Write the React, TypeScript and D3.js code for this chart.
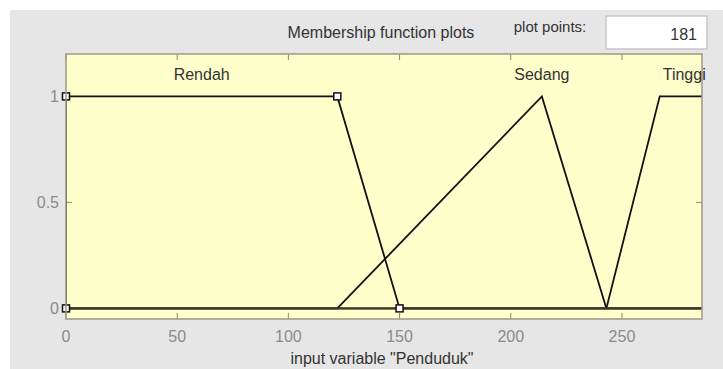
import React from "react";
import * as d3 from "d3";

const W = 723;
const H = 369;

const xDomain: [number, number] = [0, 286];
const yDomain: [number, number] = [-0.05, 1.2];
const xTicks = [0, 50, 100, 150, 200, 250];
const yTicks = [0, 0.5, 1];

const mfNames = ["Rendah", "Sedang", "Tinggi"];
const rendahX = [0, 0, 122, 150, 286];
const rendahY = [0, 1, 1, 0, 0];
const sedangX = [0, 122, 214, 243, 286];
const sedangY = [0, 0, 1, 0, 0];
const tinggiX = [0, 243, 267, 286];
const tinggiY = [0, 0, 1, 1];
const labelX = [61, 214, 278];
const markerX = [0, 0, 122, 150];
const markerY = [0, 1, 1, 0];

const plotPoints = "181";
const varName = "Penduduk";

export default function App() {
  const left = 66, right = 702, top = 54, bottom = 319;
  const x = d3.scaleLinear().domain(xDomain).range([left, right]);
  const y = d3.scaleLinear().domain(yDomain).range([bottom, top]);
  const line = d3
    .line<[number, number]>()
    .x((d) => x(d[0]))
    .y((d) => y(d[1]));
  const series = [
    [rendahX, rendahY],
    [sedangX, sedangY],
    [tinggiX, tinggiY],
  ].map(([xs, ys]) => xs.map((v, i) => [v, ys[i]] as [number, number]));
  const font = "'Liberation Sans', Arial, sans-serif";
  const tickCol = "#8a8a8a";
  const textCol = "#333";

  return (
    <svg
      width={W}
      height={H}
      style={{ position: "absolute", left: 0, top: 0 }}
      fontFamily={font}
    >
      <rect x={0} y={0} width={W} height={H} fill="#ffffff" />
      <rect x={10} y={10} width={W - 10} height={H - 10} fill="#e6e6e6" />
      <text x={381} y={38} fontSize={16} fill={textCol} textAnchor="middle">
        Membership function plots
      </text>
      <text x={550} y={32} fontSize={15} fill={textCol} textAnchor="middle">
        plot points:
      </text>
      <rect x={606} y={16} width={101} height={33} fill="#fff" stroke="#c8c8c8" strokeWidth={1.5} />
      <text x={697} y={40} fontSize={16} fill={textCol} textAnchor="end">
        {plotPoints}
      </text>

      <defs>
        <clipPath id="plotclip">
          <rect x={left} y={top} width={right - left} height={bottom - top} />
        </clipPath>
      </defs>
      <rect x={left} y={top} width={right - left} height={bottom - top} fill="#ffffcc" />

      {xTicks.map((t) => (
        <g key={"xt" + t}>
          <line x1={x(t)} x2={x(t)} y1={bottom} y2={bottom - 6} stroke="#8a8a7a" />
          <line x1={x(t)} x2={x(t)} y1={top} y2={top + 6} stroke="#8a8a7a" />
          <text x={x(t)} y={342} fontSize={16} fill={tickCol} textAnchor="middle">
            {t}
          </text>
        </g>
      ))}
      {yTicks.map((t) => (
        <g key={"yt" + t}>
          <line x1={left} x2={left + 6} y1={y(t)} y2={y(t)} stroke="#8a8a7a" />
          <line x1={right} x2={right - 6} y1={y(t)} y2={y(t)} stroke="#8a8a7a" />
          <text x={59} y={y(t) + 5.5} fontSize={16} fill={tickCol} textAnchor="end">
            {t}
          </text>
        </g>
      ))}

      <g clipPath="url(#plotclip)">
        {series.map((s, i) => (
          <path
            key={"mf" + i}
            d={line(s) || ""}
            fill="none"
            stroke="#111"
            strokeWidth={1.8}
          />
        ))}
        <line x1={left} x2={right} y1={y(0)} y2={y(0)} stroke="#3a3a2a" strokeWidth={2} />
      </g>

      {markerX.map((mx, i) => (
        <rect
          key={"mk" + i}
          x={x(mx) - 3.5}
          y={y(markerY[i]) - 3.5}
          width={7}
          height={7}
          fill="#fff"
          stroke="#111"
          strokeWidth={1.5}
        />
      ))}

      <rect
        x={left}
        y={top}
        width={right - left}
        height={bottom - top}
        fill="none"
        stroke="#9a9a88"
        strokeWidth={1.5}
      />

      {mfNames.map((n, i) => (
        <text key={n} x={x(labelX[i])} y={80} fontSize={16} fill={textCol} textAnchor="middle">
          {n}
        </text>
      ))}

      <text x={382} y={364} fontSize={16} fill={textCol} textAnchor="middle">
        {`input variable "${varName}"`}
      </text>
    </svg>
  );
}
